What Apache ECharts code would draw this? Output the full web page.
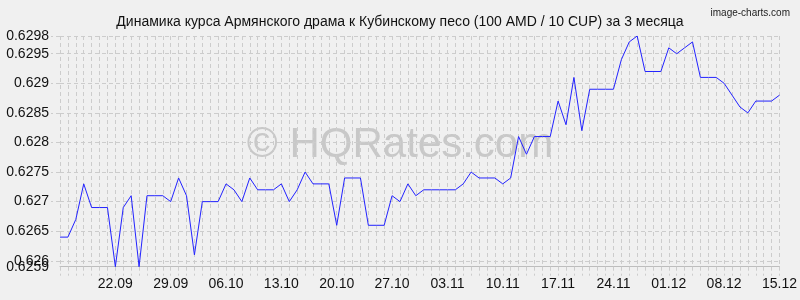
<!DOCTYPE html>
<html>
<head>
<meta charset="utf-8">
<script src="https://cdn.jsdelivr.net/npm/echarts@6/dist/echarts.min.js"></script>
<style>
html,body{margin:0;padding:0;background:#f0f0f0;}
#c{width:800px;height:300px;}
</style>
</head>
<body>
<div id="c"></div>
<script>
var titleText = 'Динамика курса Армянского драма к Кубинскому песо (100 AMD / 10 CUP) за 3 месяца';
var categories = [
 '15.09','16.09','17.09','18.09','19.09','20.09','21.09','22.09','23.09','24.09','25.09','26.09','27.09','28.09','29.09','30.09',
 '01.10','02.10','03.10','04.10','05.10','06.10','07.10','08.10','09.10','10.10','11.10','12.10','13.10','14.10','15.10','16.10','17.10','18.10','19.10','20.10','21.10','22.10','23.10','24.10','25.10','26.10','27.10','28.10','29.10','30.10','31.10',
 '01.11','02.11','03.11','04.11','05.11','06.11','07.11','08.11','09.11','10.11','11.11','12.11','13.11','14.11','15.11','16.11','17.11','18.11','19.11','20.11','21.11','22.11','23.11','24.11','25.11','26.11','27.11','28.11','29.11','30.11',
 '01.12','02.12','03.12','04.12','05.12','06.12','07.12','08.12','09.12','10.12','11.12','12.12','13.12','14.12','15.12'
];
var xTickLabels = ['22.09','29.09','06.10','13.10','20.10','27.10','03.11','10.11','17.11','24.11','01.12','08.12','15.12'];
var rates = [
 0.6264,0.6264,0.6267,0.6273,0.6269,0.6269,0.6269,0.6259,0.6269,0.6271,
 0.6259,0.6271,0.6271,0.6271,0.6270,0.6274,0.6271,0.6261,0.6270,0.6270,
 0.6270,0.6273,0.6272,0.6270,0.6274,0.6272,0.6272,0.6272,0.6273,0.6270,
 0.6272,0.6275,0.6273,0.6273,0.6273,0.6266,0.6274,0.6274,0.6274,0.6266,
 0.6266,0.6266,0.6271,0.6270,0.6273,0.6271,0.6272,0.6272,0.6272,0.6272,
 0.6272,0.6273,0.6275,0.6274,0.6274,0.6274,0.6273,0.6274,0.6281,0.6278,
 0.6281,0.6281,0.6281,0.6287,0.6283,0.6291,0.6282,0.6289,0.6289,0.6289,
 0.6289,0.6294,0.6297,0.6298,0.6292,0.6292,0.6292,0.6296,0.6295,0.6296,
 0.6297,0.6291,0.6291,0.6291,0.6290,0.6288,0.6286,0.6285,0.6287,0.6287,
 0.6287,0.6288
];
var yTickLabels = [0.6259,0.626,0.6265,0.627,0.6275,0.628,0.6285,0.629,0.6295,0.6298];
var yGridValues = [0.626,0.6265,0.627,0.6275,0.628,0.6285,0.629,0.6295,0.6298];
var yMin = 0.6259, yMax = 0.6298;

// labels that sit too close to each other are drawn on two overlaid axes so both stay visible
var yLabelsMain = yTickLabels.filter(function(v, i){ return i !== 1; });
var yLabelsExtra = yTickLabels.filter(function(v, i){ return i === 1; });

var chart = echarts.init(document.getElementById('c'), null, {renderer:'canvas'});
var gridColor = '#cccccc';
var fmt = function(v){ return String(parseFloat(Number(v).toFixed(4))); };
var labelFont = '"Liberation Sans",Arial,sans-serif';
chart.setOption({
  backgroundColor: '#f0f0f0',
  animation: false,
  title: [{
    text: titleText,
    left: 'center',
    top: 10,
    textStyle: {fontFamily: labelFont, fontSize: 14, fontWeight: 'normal', color: '#111'}
  },{
    text: 'image-charts.com',
    right: 5,
    top: 3,
    textStyle: {fontFamily: labelFont, fontSize: 10, fontWeight: 'normal', color: '#222'}
  }],
  graphic: [{
    type: 'text',
    left: 'center',
    top: 124,
    z: -10,
    silent: true,
    style: {text: '© HQRates.com', fontFamily: labelFont, fontSize: 42, fill: 'rgba(150,150,150,0.45)'}
  }],
  grid: {left: 60, right: 20, top: 36, bottom: 33.3, containLabel: false},
  xAxis: {
    type: 'category',
    data: categories,
    boundaryGap: false,
    axisLine: {show: true, lineStyle: {color: '#bdbdbd', width: 1}},
    axisTick: {show: true, interval: 0, length: 9, lineStyle: {color: gridColor, type: [4,3]}},
    splitLine: {show: true, interval: 0, lineStyle: {color: gridColor, type: [4,3]}},
    axisLabel: {
      interval: 0,
      margin: 10,
      fontFamily: labelFont,
      fontSize: 14,
      color: '#111',
      formatter: function(v){ return xTickLabels.indexOf(v) >= 0 ? v : ''; }
    }
  },
  yAxis: [{
    type: 'value',
    min: yMin,
    max: yMax,
    axisLine: {show: false},
    axisTick: {show: true, length: 9, customValues: yGridValues, lineStyle: {color: gridColor, type: [4,3]}},
    splitLine: {show: true, lineStyle: {color: gridColor, type: [4,3]}},
    axisLabel: {
      customValues: yLabelsMain,
      showMinLabel: true,
      showMaxLabel: true,
      hideOverlap: false,
      margin: 11,
      fontFamily: labelFont,
      fontSize: 14,
      color: '#111',
      formatter: fmt
    }
  },{
    type: 'value',
    position: 'left',
    offset: 0,
    min: yMin,
    max: yMax,
    axisLine: {show: false},
    axisTick: {show: false},
    splitLine: {show: false},
    axisLabel: {
      customValues: yLabelsExtra,
      showMinLabel: true,
      showMaxLabel: true,
      hideOverlap: false,
      margin: 11,
      fontFamily: labelFont,
      fontSize: 14,
      color: '#111',
      formatter: fmt
    }
  }],
  series: [{
    type: 'line',
    data: rates,
    yAxisIndex: 0,
    showSymbol: false,
    symbol: 'none',
    lineStyle: {color: '#2222ff', width: 1},
    z: 5
  }]
});
</script>
</body>
</html>
